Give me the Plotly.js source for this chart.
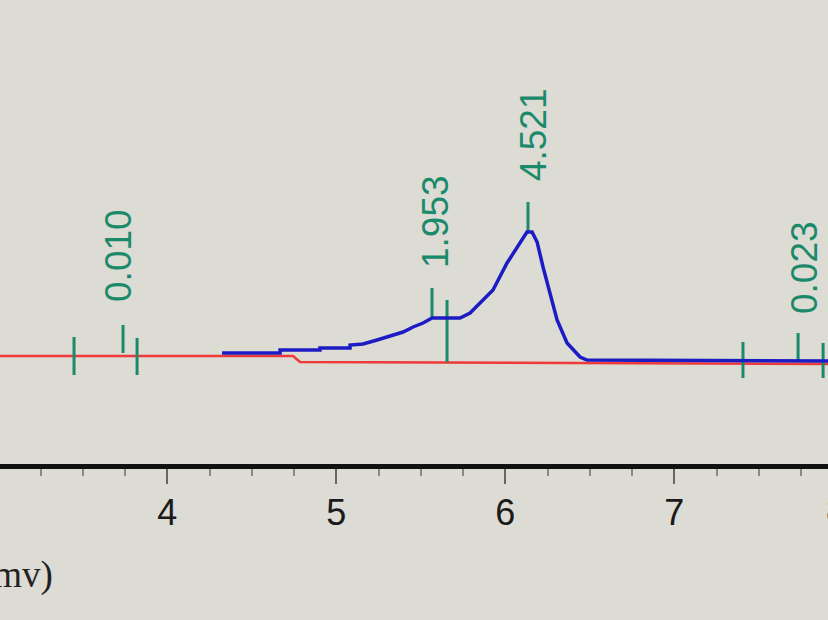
<!DOCTYPE html>
<html>
<head>
<meta charset="utf-8">
<script src="https://cdn.plot.ly/plotly-3.0.1.min.js"></script>
<style>
  html, body { margin: 0; padding: 0; background: #dcdbd4; }
  #chart { width: 828px; height: 620px; }
</style>
</head>
<body>
<div id="chart"></div>
<script>
// signal trace (time in min, signal in mV)
var sigTime = [4.324, 4.667, 4.667, 4.903, 4.903, 5.081, 5.081, 5.158, 5.241, 5.318, 5.395, 5.454, 5.513, 5.566,
               5.732, 5.791, 5.850, 5.927, 6.010, 6.069, 6.128, 6.158, 6.188, 6.223, 6.264, 6.306, 6.365, 6.442, 6.483, 7.909];
var sigMv   = [0.9, 0.9, 1.2, 1.2, 1.4, 1.4, 1.7, 1.8, 2.2, 2.6, 3.0, 3.5, 3.9, 4.4,
               4.4, 4.9, 5.9, 7.2, 9.9, 11.5, 13.0, 13.0, 12.0, 9.5, 6.9, 4.2, 1.9, 0.5, 0.2, 0.1];

// integration baseline
var baseTime = [3.01, 4.744, 4.785, 7.909];
var baseMv   = [0.6, 0.6, 0.0, -0.2];

// peak start/end/apex markers
var markTime = [3.448, 3.738, 3.821, 5.566, 5.655, 6.134, 7.406, 7.732, 7.880];
var markTop  = [2.5, 3.7, 2.4, 7.4, 6.2, 16.0, 2.0, 2.9, 1.9];
var markBot  = [-1.3, 0.9, -1.3, 4.4, 0.0, 13.0, -1.6, 0.2, -1.6];

// peak labels
var labelText = ['0.010', '1.953', '4.521', '0.023'];
var labelTime = [3.708, 5.584, 6.164, 7.767];
var labelMv   = [10.7, 14.0, 22.7, 9.4];

var mx = [], my = [];
for (var i = 0; i < markTime.length; i++) {
  mx.push(markTime[i], markTime[i], null);
  my.push(markBot[i], markTop[i], null);
}

var green = '#1b8a6b';

var traces = [
  { type: 'scatter', mode: 'lines', x: baseTime, y: baseMv,
    line: { color: '#ee3a3a', width: 2.5 }, hoverinfo: 'skip' },
  { type: 'scatter', mode: 'lines', x: mx, y: my,
    line: { color: green, width: 3 }, hoverinfo: 'skip' },
  { type: 'scatter', mode: 'lines', x: sigTime, y: sigMv,
    line: { color: '#1c1cc4', width: 3.5 } }
];

var annots = labelText.map(function (t, i) {
  return { x: labelTime[i], y: labelMv[i], text: t, showarrow: false, textangle: -90,
           xanchor: 'center', yanchor: 'middle',
           font: { family: 'Liberation Sans, Arial', size: 37, color: green } };
});
// y-axis unit, cut at the left edge of the photo
annots.push({ xref: 'paper', yref: 'paper', x: 55 / 828, y: -0.239, text: '(mv)',
              showarrow: false, xanchor: 'right', yanchor: 'middle',
              font: { family: 'Liberation Serif, Times New Roman', size: 37, color: '#222' } });
// the "8" tick label sits just past the right edge
annots.push({ xref: 'paper', yref: 'paper', x: 836 / 828, y: -0.1, text: '8',
              showarrow: false, xanchor: 'center', yanchor: 'middle',
              font: { family: 'Liberation Sans, Arial', size: 36, color: '#1a1a1a' } });

var layout = {
  width: 828, height: 620,
  margin: { l: 0, r: 0, t: 0, b: 156 },
  paper_bgcolor: '#dcdbd4', plot_bgcolor: '#dcdbd4',
  showlegend: false,
  xaxis: {
    range: [3.01, 7.909], dtick: 1, showgrid: false, zeroline: false,
    showline: true, linecolor: '#111', linewidth: 5,
    ticks: 'outside', ticklen: 15, tickwidth: 2, tickcolor: '#666',
    ticklabelstandoff: -2,
    minor: { dtick: 0.25, ticks: 'outside', ticklen: 7, tickwidth: 2, tickcolor: '#888' },
    tickfont: { family: 'Liberation Sans, Arial', size: 36, color: '#1a1a1a' }
  },
  yaxis: {
    range: [-10.2, 36.2], visible: false, showgrid: false, zeroline: false
  },
  annotations: annots
};

Plotly.newPlot('chart', traces, layout, { displayModeBar: false, staticPlot: true });
</script>
</body>
</html>
